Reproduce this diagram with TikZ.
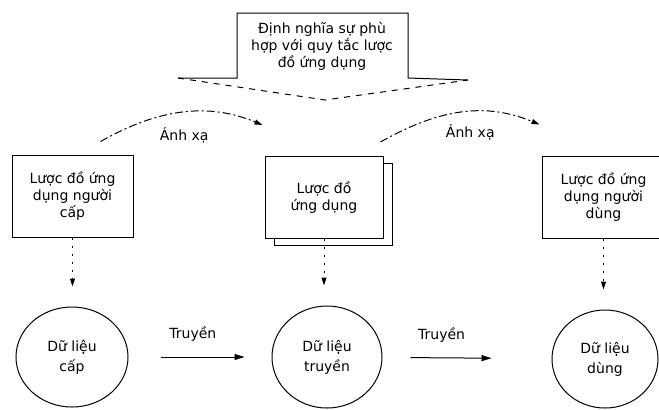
\documentclass[tikz,border=0pt]{standalone}
\usepackage{fontspec}
\setmainfont{DejaVu Sans}
\usetikzlibrary{arrows.meta,shapes.geometric,shadows}

\begin{document}
\begin{tikzpicture}[x=0.5pt,y=-0.5pt, line width=0.5pt,
  txt/.style={font=\fontsize{7}{8.5}\selectfont, align=center},
  schema/.style={draw, fill=white, txt, minimum width=60pt, minimum height=41pt},
  data/.style={draw, ellipse, inner sep=0pt, align=center,
    font=\fontsize{7}{10}\selectfont, minimum width=55pt, minimum height=50pt},
  fall/.style={dash pattern=on 1pt off 3pt, -{Triangle[length=4pt,width=2.5pt]}},
  send/.style={-{Triangle[length=5pt,width=3pt]}},
  mapto/.style={dash pattern=on 4pt off 1.5pt on 1pt off 1.5pt,
    -{Triangle[length=4pt,width=2.5pt]}}]
  \useasboundingbox (0,0) rectangle (659,409);

  % 1. Block arrow on top
  \draw (178,78) -- (237,78) -- (237,13) -- (408,13) -- (408,78) -- (468,80);
  \draw[dashed] (178,78) -- (325,100) -- (468,80);
  \node[txt] (rule) at (322,46) {Định nghĩa sự phù\\hợp với quy tắc lược\\đồ ứng dụng};

  % 2. Schemas
  \node[schema, minimum width=60.5pt] (src) at (72.5,196) {Lược đồ ứng\\dụng người\\cấp};
  \node[schema, minimum width=59pt,
    copy shadow={shadow xshift=4.5pt, shadow yshift=-3.5pt, draw, fill=white}]
    (app) at (324,197.5) {Lược đồ\\ứng dụng};
  \node[schema, minimum width=61.5pt] (usr) at (603.5,197) {Lược đồ ứng\\dụng người\\dùng};

  % 3. Data sets
  \node[data, minimum width=56pt, minimum height=50pt] (cap) at (72,357) {Dữ liệu\\cấp};
  \node[data, minimum width=55pt, minimum height=51pt] (trn) at (327,357) {Dữ liệu\\truyền};
  \node[data, minimum width=53pt, minimum height=49pt] (dng) at (605,359) {Dữ liệu\\dùng};

  % 4. Schema -> data
  \draw[fall, shorten >=10pt] (src.south) -- (src.south |- cap.north);
  \draw[fall, shorten >=10pt] (app.south) -- (app.south |- trn.north);
  \draw[fall, shorten >=10pt] (usr.south) -- (usr.south |- dng.north);

  % 5. Transfer
  \draw[send, shorten <=16pt, shorten >=13.5pt] (cap) -- (trn)
    node[txt, pos=0.45, above=4pt] (t1) {Truyền};
  \draw[send, shorten <=14pt, shorten >=30pt] (trn) -- (dng)
    node[txt, pos=0.35, above=4pt] (t2) {Truyền};

  % 6. Mappings
  \draw[mapto] ([shift={(-33,-13)}]src.north east)
    .. controls +(60,-34) and +(-53,-22) .. ([shift={(-2,-31)}]app.north west)
    node[txt, pos=0.5, below=4pt] (m1) {Ánh xạ};
  \draw[mapto] ([shift={(-3,-14)}]app.north east)
    .. controls +(60,-34) and +(-53,-22) .. ([shift={(-2,-31)}]usr.north west)
    node[txt, pos=0.55, below=3pt] (m2) {Ánh xạ};
\end{tikzpicture}
\end{document}
